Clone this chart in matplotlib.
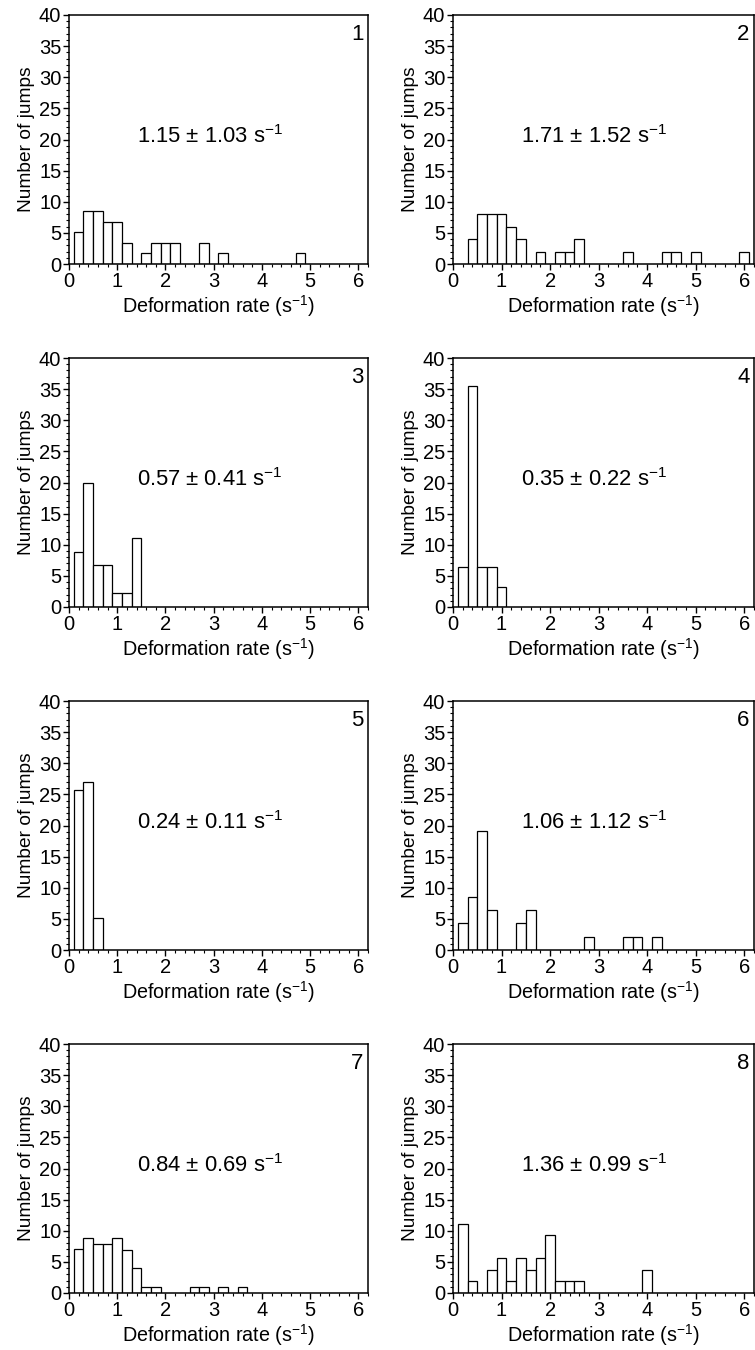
import numpy as np
import matplotlib
matplotlib.use("Agg")
import matplotlib.pyplot as plt
from matplotlib.ticker import MultipleLocator

plt.rcParams['font.family'] = ['Liberation Sans', 'DejaVu Sans']
plt.rcParams['mathtext.fontset'] = 'custom'
plt.rcParams['mathtext.rm'] = 'Liberation Sans'
plt.rcParams['mathtext.it'] = 'Liberation Sans:italic'

# ------------------------------------------------------------------
# data: histogram heights, bins of width 0.2 s^-1, first centre at 0.2
# ------------------------------------------------------------------
bin_width = 0.2
counts_1 = [5.1, 8.5, 8.5, 6.8, 6.8, 3.4, 0, 1.7, 3.4, 3.4, 3.4, 0, 0, 3.4, 0, 1.7,
            0, 0, 0, 0, 0, 0, 0, 1.7]
counts_2 = [0, 4, 8, 8, 8, 6, 4, 0, 2, 0, 2, 2, 4, 0, 0, 0, 0, 2, 0, 0, 0, 2, 2, 0, 2,
            0, 0, 0, 0, 2]
counts_3 = [8.9, 20.0, 6.7, 6.7, 2.2, 2.2, 11.1]
counts_4 = [6.5, 35.5, 6.5, 6.5, 3.2]
counts_5 = [25.7, 27.0, 5.1]
counts_6 = [4.3, 8.5, 19.1, 6.4, 0, 0, 4.3, 6.4, 0, 0, 0, 0, 0, 2.1, 0, 0, 0, 2.1, 2.1,
            0, 2.1]
counts_7 = [7.0, 8.9, 7.9, 7.9, 8.9, 6.9, 4.0, 1.0, 1.0, 0, 0, 0, 1.0, 1.0, 0, 1.0, 0, 1.0]
counts_8 = [11.1, 1.9, 0, 3.7, 5.6, 1.9, 5.6, 3.7, 5.6, 9.3, 1.9, 1.9, 1.9, 0, 0, 0, 0,
            0, 0, 3.7]

all_counts = [counts_1, counts_2, counts_3, counts_4,
              counts_5, counts_6, counts_7, counts_8]
rates = ['1.15 ± 1.03', '1.71 ± 1.52', '0.57 ± 0.41', '0.35 ± 0.22',
         '0.24 ± 0.11', '1.06 ± 1.12', '0.84 ± 0.69', '1.36 ± 0.99']
panel_ids = ['1', '2', '3', '4', '5', '6', '7', '8']

# ------------------------------------------------------------------
# layout (pixel based, 755 x 1350)
# ------------------------------------------------------------------
W, H = 755, 1350
fig = plt.figure(figsize=(W / 100, H / 100), dpi=100)

col_left = [69, 453]
ax_w = [299, 301]
row_top = [15, 358, 701, 1044]
ax_h = 249

for i, counts in enumerate(all_counts):
    r, c = divmod(i, 2)
    left = col_left[c]
    top = row_top[r]
    ax = fig.add_axes([left / W, 1 - (top + ax_h) / H, ax_w[c] / W, ax_h / H])

    counts = np.array(counts, dtype=float)
    centers = bin_width * (np.arange(len(counts)) + 1)
    mask = counts > 0
    ax.bar(centers[mask], counts[mask], width=bin_width, color='white',
           edgecolor='black', linewidth=0.9)

    ax.set_xlim(0, 6.2)
    ax.set_ylim(0, 40)
    ax.xaxis.set_major_locator(MultipleLocator(1))
    ax.xaxis.set_minor_locator(MultipleLocator(0.2))
    ax.yaxis.set_major_locator(MultipleLocator(5))
    ax.yaxis.set_minor_locator(MultipleLocator(1))
    ax.tick_params(which='major', direction='out', length=4, width=1,
                   labelsize=14.5, pad=1.5)
    ax.tick_params(which='minor', direction='out', length=2, width=0.8)
    for sp in ax.spines.values():
        sp.set_linewidth(1.1)

    ax.set_xlabel('Deformation rate (s$^{-1}$)', fontsize=14.2, labelpad=2)
    ax.set_ylabel('Number of jumps', fontsize=13.8, labelpad=3)

    ax.text(0.47, 0.51, rates[i] + ' s$^{-1}$', transform=ax.transAxes,
            ha='center', va='center', fontsize=15.8)
    ax.text(0.985, 0.965, panel_ids[i], transform=ax.transAxes,
            ha='right', va='top', fontsize=16)

plt.savefig('out.png', dpi=100)
